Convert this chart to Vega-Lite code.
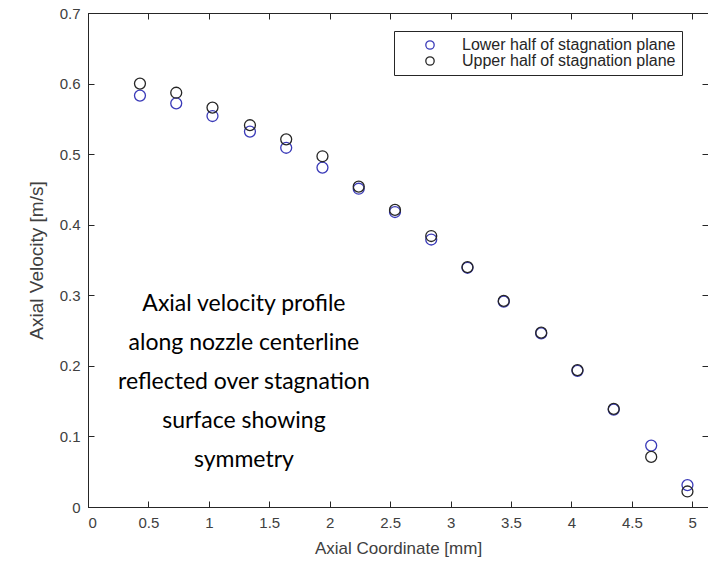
{
  "$schema": "https://vega.github.io/schema/vega-lite/v6.json",
  "width": 620,
  "height": 494,
  "autosize": {"type": "none"},
  "padding": {"left": 88, "top": 13, "right": 0, "bottom": 62},
  "background": "white",
  "config": {
    "font": "Liberation Sans",
    "view": {"stroke": "#262626", "strokeWidth": 1},
    "axis": {
      "grid": false,
      "domainColor": "#262626",
      "tickColor": "#262626",
      "tickSize": -6,
      "tickWidth": 1,
      "labelColor": "#404040",
      "titleColor": "#404040",
      "labelFont": "Liberation Sans",
      "titleFont": "Liberation Sans",
      "titleFontWeight": "normal",
      "labelFontSize": 15
    }
  },
  "datasets": {
    "points": [
      {"x": 0.43, "v": 0.583, "half": "Lower half of stagnation plane"},
      {"x": 0.73, "v": 0.572, "half": "Lower half of stagnation plane"},
      {"x": 1.03, "v": 0.554, "half": "Lower half of stagnation plane"},
      {"x": 1.34, "v": 0.532, "half": "Lower half of stagnation plane"},
      {"x": 1.64, "v": 0.509, "half": "Lower half of stagnation plane"},
      {"x": 1.94, "v": 0.481, "half": "Lower half of stagnation plane"},
      {"x": 2.24, "v": 0.451, "half": "Lower half of stagnation plane"},
      {"x": 2.54, "v": 0.418, "half": "Lower half of stagnation plane"},
      {"x": 2.84, "v": 0.379, "half": "Lower half of stagnation plane"},
      {"x": 3.14, "v": 0.339, "half": "Lower half of stagnation plane"},
      {"x": 3.44, "v": 0.291, "half": "Lower half of stagnation plane"},
      {"x": 3.75, "v": 0.246, "half": "Lower half of stagnation plane"},
      {"x": 4.05, "v": 0.193, "half": "Lower half of stagnation plane"},
      {"x": 4.35, "v": 0.138, "half": "Lower half of stagnation plane"},
      {"x": 4.66, "v": 0.087, "half": "Lower half of stagnation plane"},
      {"x": 4.96, "v": 0.031, "half": "Lower half of stagnation plane"},
      {"x": 0.43, "v": 0.600, "half": "Upper half of stagnation plane"},
      {"x": 0.73, "v": 0.587, "half": "Upper half of stagnation plane"},
      {"x": 1.03, "v": 0.566, "half": "Upper half of stagnation plane"},
      {"x": 1.34, "v": 0.541, "half": "Upper half of stagnation plane"},
      {"x": 1.64, "v": 0.521, "half": "Upper half of stagnation plane"},
      {"x": 1.94, "v": 0.497, "half": "Upper half of stagnation plane"},
      {"x": 2.24, "v": 0.454, "half": "Upper half of stagnation plane"},
      {"x": 2.54, "v": 0.421, "half": "Upper half of stagnation plane"},
      {"x": 2.84, "v": 0.384, "half": "Upper half of stagnation plane"},
      {"x": 3.14, "v": 0.340, "half": "Upper half of stagnation plane"},
      {"x": 3.44, "v": 0.292, "half": "Upper half of stagnation plane"},
      {"x": 3.75, "v": 0.247, "half": "Upper half of stagnation plane"},
      {"x": 4.05, "v": 0.194, "half": "Upper half of stagnation plane"},
      {"x": 4.35, "v": 0.139, "half": "Upper half of stagnation plane"},
      {"x": 4.66, "v": 0.071, "half": "Upper half of stagnation plane"},
      {"x": 4.96, "v": 0.022, "half": "Upper half of stagnation plane"}
    ],
    "note": [
      {"note": "Axial velocity profile\nalong nozzle centerline\nreflected over stagnation\nsurface showing\nsymmetry", "nx": 1.29, "ny": 0.288}
    ]
  },
  "layer": [
    {
      "data": {"name": "points"},
      "mark": {"type": "point", "shape": "circle", "filled": false, "size": 120, "strokeWidth": 1.3, "opacity": 1},
      "encoding": {
        "x": {
          "field": "x", "type": "quantitative",
          "scale": {"domain": [0, 5.13], "nice": false, "zero": false},
          "axis": {
            "orient": "bottom",
            "values": [0, 0.5, 1, 1.5, 2, 2.5, 3, 3.5, 4, 4.5, 5],
            "format": "~g",
            "labelPadding": 14,
            "title": "Axial Coordinate [mm]",
            "titleFontSize": 17,
            "titlePadding": 10
          }
        },
        "y": {
          "field": "v", "type": "quantitative",
          "scale": {"domain": [0, 0.7], "nice": false},
          "axis": {
            "orient": "left",
            "values": [0, 0.1, 0.2, 0.3, 0.4, 0.5, 0.6, 0.7],
            "format": "~g",
            "labelPadding": 14,
            "title": "Axial Velocity [m/s]",
            "titleFontSize": 19,
            "titlePadding": 13
          }
        },
        "color": {
          "field": "half", "type": "nominal",
          "scale": {
            "domain": ["Lower half of stagnation plane", "Upper half of stagnation plane"],
            "range": ["#3a3ab8", "#262626"]
          },
          "legend": {
            "title": null,
            "orient": "none",
            "legendX": 306,
            "legendY": 18,
            "strokeColor": "#262626",
            "fillColor": "white",
            "padding": 6,
            "symbolOffset": 22,
            "labelOffset": 24,
            "symbolSize": 70,
            "symbolStrokeWidth": 1.3,
            "symbolType": "circle",
            "labelFontSize": 16,
            "labelFont": "Liberation Sans",
            "labelColor": "#262626",
            "rowPadding": 0,
            "labelLimit": 400
          }
        }
      }
    },
    {
      "data": {"name": "note"},
      "mark": {"type": "text", "font": "Lato", "fontSize": 23, "lineHeight": 39, "lineBreak": "\n", "align": "center", "baseline": "middle", "color": "black"},
      "encoding": {
        "x": {
          "field": "nx", "type": "quantitative",
          "axis": {"orient": "top", "labels": false, "title": null, "domain": false,
                   "values": [0, 0.5, 1, 1.5, 2, 2.5, 3, 3.5, 4, 4.5, 5]}
        },
        "y": {
          "field": "ny", "type": "quantitative",
          "axis": {"orient": "right", "labels": false, "title": null, "domain": false,
                   "values": [0, 0.1, 0.2, 0.3, 0.4, 0.5, 0.6, 0.7]}
        },
        "text": {"field": "note"}
      }
    }
  ],
  "resolve": {"axis": {"x": "independent", "y": "independent"}}
}
